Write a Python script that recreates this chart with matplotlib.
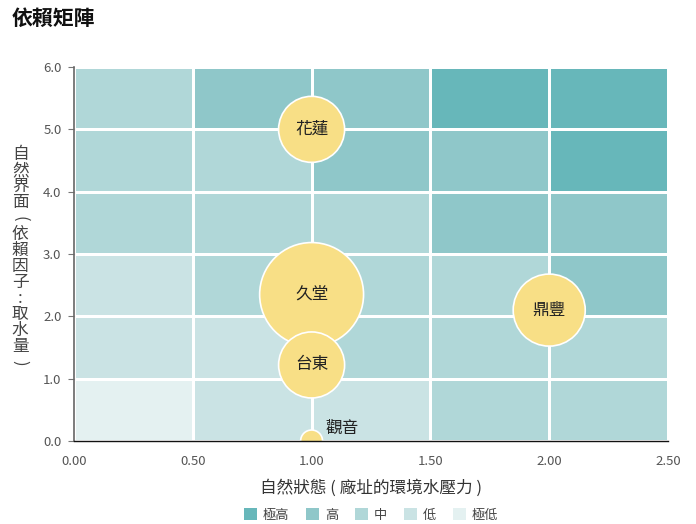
import numpy as np
import matplotlib
matplotlib.use('Agg')
import matplotlib.pyplot as plt
from matplotlib.colors import ListedColormap, BoundaryNorm
from matplotlib.patches import Patch

plt.rcParams['font.family'] = ['Noto Sans CJK TC', 'DejaVu Sans']

# levels: 0 極低, 1 低, 2 中, 3 高, 4 極高
level_names = ['極高', '高', '中', '低', '極低']
level_colors = ['#e4f1f1', '#cae3e4', '#b0d7d8', '#8fc7c9', '#67b7ba']

x_edges = [0.0, 0.5, 1.0, 1.5, 2.0, 2.5]
y_edges = [0, 1, 2, 3, 4, 5, 6]
# rows from y=0 upward
grid_levels = [
    [0, 1, 1, 2, 2],
    [1, 1, 2, 2, 2],
    [1, 2, 2, 2, 3],
    [2, 2, 2, 3, 3],
    [2, 2, 3, 3, 4],
    [2, 3, 3, 4, 4],
]

sites = ['花蓮', '久堂', '台東', '鼎豐', '觀音']
site_x = [1.0, 1.0, 1.0, 2.0, 1.0]
site_y = [5.0, 2.35, 1.22, 2.1, 0.0]
site_size = [2260, 5600, 2260, 2690, 250]

fig = plt.figure(figsize=(6.96, 5.24), dpi=100)
ax = fig.add_axes([0.1063, 0.1584, 0.8535, 0.7137])

cmap = ListedColormap(level_colors)
norm = BoundaryNorm(np.arange(-0.5, 5.5, 1), cmap.N)
ax.pcolormesh(x_edges, y_edges, np.array(grid_levels), cmap=cmap, norm=norm,
              edgecolors='white', linewidth=1.0, zorder=1)

ax.scatter(site_x, site_y, s=site_size, color='#f8df86', edgecolors='white',
           linewidths=1.2, zorder=3, clip_on=True)

for name, x, y in zip(sites, site_x, site_y):
    if name == '觀音':
        ax.text(x + 0.06, y + 0.2, name, ha='left', va='center', fontsize=12,
                color='#222222', zorder=4)
    else:
        ax.text(x, y, name, ha='center', va='center', fontsize=12,
                fontweight='medium', color='#222222', zorder=4)

ax.set_xlim(0, 2.5)
ax.set_ylim(0, 6)
ax.set_xticks(x_edges)
ax.set_xticklabels(['%.2f' % v for v in x_edges])
ax.set_yticks(y_edges)
ax.set_yticklabels(['%.1f' % v for v in y_edges])
ax.tick_params(axis='x', length=0, pad=10, labelsize=9.5, labelcolor='#555555')
ax.tick_params(axis='y', length=4, width=0.8, color='#777777', pad=5,
               labelsize=9.5, labelcolor='#555555')

for side in ['top', 'right']:
    ax.spines[side].set_visible(False)
ax.spines['left'].set_color('#666666')
ax.spines['left'].set_linewidth(1.2)
ax.spines['bottom'].set_color('#111111')
ax.spines['bottom'].set_linewidth(1.0)
ax.spines['left'].set_zorder(5)
ax.spines['bottom'].set_zorder(5)

ax.set_xlabel('自然狀態 ( 廠址的環境水壓力 )', fontsize=12, color='#333333',
              labelpad=8, fontweight='light')

# vertical y label, one character per line; brackets turned to vertical form
ylabel_chars = ['自', '然', '界', '面', '(', '依', '賴', '因', '子', ':', '取', '水', '量', ')']
y_top, step = 0.705, 0.0305
for i, ch in enumerate(ylabel_chars):
    rot = -90 if ch in '()' else 0
    fig.text(0.029, y_top - i * step, ch, ha='center', va='center', rotation=rot,
             fontsize=12, color='#444444', fontweight='light')

fig.text(0.016, 0.965, '依賴矩陣', ha='left', va='center', fontsize=15,
         fontweight='bold', color='#111111')

handles = [Patch(facecolor=c, edgecolor='none') for c in level_colors[::-1]]
fig.legend(handles, level_names, loc='center', bbox_to_anchor=(0.533, 0.017),
           ncol=5, frameon=False, fontsize=9.5, handlelength=1.0,
           handleheight=1.0, handletextpad=0.4, columnspacing=1.3,
           labelcolor='#444444')

fig.savefig('out.png', dpi=100)
